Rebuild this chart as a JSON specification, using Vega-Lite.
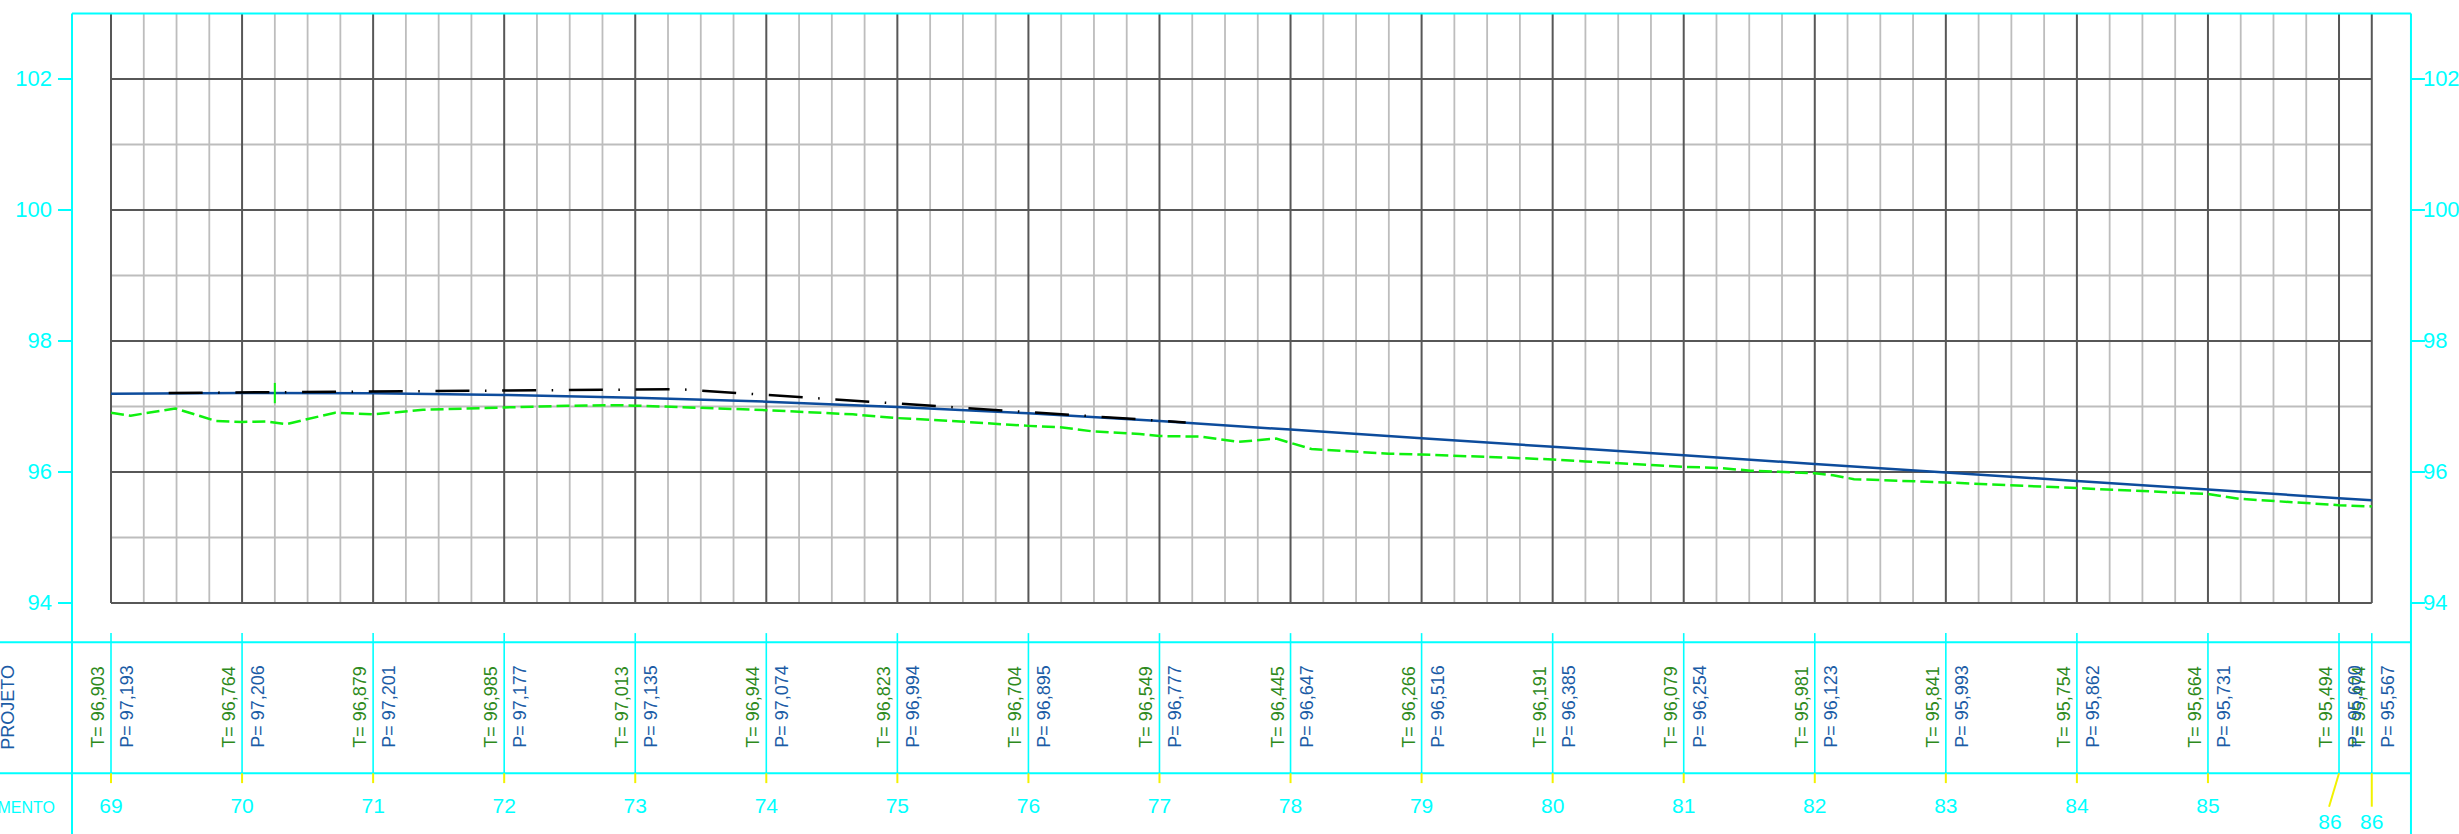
{
  "$schema": "https://vega.github.io/schema/vega-lite/v6.json",
  "width": 2459,
  "height": 834,
  "padding": 0,
  "autosize": {"type": "none"},
  "background": "#ffffff",
  "config": {"view": {"stroke": null}, "axis": {"disable": true}, "legend": {"disable": true}, "text": {"font": "Liberation Sans"}},
  "datasets": {
    "stations": [
      {"st": 69, "T": 96.903, "P": 97.193, "lab": "69", "tl": "T= 96,903", "pl": "P= 97,193"},
      {"st": 70, "T": 96.764, "P": 97.206, "lab": "70", "tl": "T= 96,764", "pl": "P= 97,206"},
      {"st": 71, "T": 96.879, "P": 97.201, "lab": "71", "tl": "T= 96,879", "pl": "P= 97,201"},
      {"st": 72, "T": 96.985, "P": 97.177, "lab": "72", "tl": "T= 96,985", "pl": "P= 97,177"},
      {"st": 73, "T": 97.013, "P": 97.135, "lab": "73", "tl": "T= 97,013", "pl": "P= 97,135"},
      {"st": 74, "T": 96.944, "P": 97.074, "lab": "74", "tl": "T= 96,944", "pl": "P= 97,074"},
      {"st": 75, "T": 96.823, "P": 96.994, "lab": "75", "tl": "T= 96,823", "pl": "P= 96,994"},
      {"st": 76, "T": 96.704, "P": 96.895, "lab": "76", "tl": "T= 96,704", "pl": "P= 96,895"},
      {"st": 77, "T": 96.549, "P": 96.777, "lab": "77", "tl": "T= 96,549", "pl": "P= 96,777"},
      {"st": 78, "T": 96.445, "P": 96.647, "lab": "78", "tl": "T= 96,445", "pl": "P= 96,647"},
      {"st": 79, "T": 96.266, "P": 96.516, "lab": "79", "tl": "T= 96,266", "pl": "P= 96,516"},
      {"st": 80, "T": 96.191, "P": 96.385, "lab": "80", "tl": "T= 96,191", "pl": "P= 96,385"},
      {"st": 81, "T": 96.079, "P": 96.254, "lab": "81", "tl": "T= 96,079", "pl": "P= 96,254"},
      {"st": 82, "T": 95.981, "P": 96.123, "lab": "82", "tl": "T= 95,981", "pl": "P= 96,123"},
      {"st": 83, "T": 95.841, "P": 95.993, "lab": "83", "tl": "T= 95,841", "pl": "P= 95,993"},
      {"st": 84, "T": 95.754, "P": 95.862, "lab": "84", "tl": "T= 95,754", "pl": "P= 95,862"},
      {"st": 85, "T": 95.664, "P": 95.731, "lab": "85", "tl": "T= 95,664", "pl": "P= 95,731"},
      {"st": 86, "T": 95.494, "P": 95.600, "lab": "86", "tl": "T= 95,494", "pl": "P= 95,600"},
      {"st": 86.25, "T": 95.474, "P": 95.567, "lab": "86", "tl": "T= 95,474", "pl": "P= 95,567"}
    ],
    "minorV": [
      {"st": 69.25}, {"st": 69.5}, {"st": 69.75}, {"st": 70.25}, {"st": 70.5}, {"st": 70.75},
      {"st": 71.25}, {"st": 71.5}, {"st": 71.75}, {"st": 72.25}, {"st": 72.5}, {"st": 72.75},
      {"st": 73.25}, {"st": 73.5}, {"st": 73.75}, {"st": 74.25}, {"st": 74.5}, {"st": 74.75},
      {"st": 75.25}, {"st": 75.5}, {"st": 75.75}, {"st": 76.25}, {"st": 76.5}, {"st": 76.75},
      {"st": 77.25}, {"st": 77.5}, {"st": 77.75}, {"st": 78.25}, {"st": 78.5}, {"st": 78.75},
      {"st": 79.25}, {"st": 79.5}, {"st": 79.75}, {"st": 80.25}, {"st": 80.5}, {"st": 80.75},
      {"st": 81.25}, {"st": 81.5}, {"st": 81.75}, {"st": 82.25}, {"st": 82.5}, {"st": 82.75},
      {"st": 83.25}, {"st": 83.5}, {"st": 83.75}, {"st": 84.25}, {"st": 84.5}, {"st": 84.75},
      {"st": 85.25}, {"st": 85.5}, {"st": 85.75}
    ],
    "hgrid": [
      {"z": 94, "k": "major", "lab": "94"}, {"z": 95, "k": "minor", "lab": ""},
      {"z": 96, "k": "major", "lab": "96"}, {"z": 97, "k": "minor", "lab": ""},
      {"z": 98, "k": "major", "lab": "98"}, {"z": 99, "k": "minor", "lab": ""},
      {"z": 100, "k": "major", "lab": "100"}, {"z": 101, "k": "minor", "lab": ""},
      {"z": 102, "k": "major", "lab": "102"}
    ],
    "terrain": [
      {"st": 69.0, "z": 96.903}, {"st": 69.15, "z": 96.86}, {"st": 69.49, "z": 96.97},
      {"st": 69.8, "z": 96.78}, {"st": 70.0, "z": 96.764}, {"st": 70.19, "z": 96.77},
      {"st": 70.335, "z": 96.73}, {"st": 70.71, "z": 96.905}, {"st": 71.0, "z": 96.879},
      {"st": 71.38, "z": 96.95}, {"st": 72.0, "z": 96.985}, {"st": 72.48, "z": 97.01},
      {"st": 72.88, "z": 97.02}, {"st": 73.0, "z": 97.013}, {"st": 73.49, "z": 96.98},
      {"st": 74.0, "z": 96.944}, {"st": 74.66, "z": 96.88}, {"st": 75.0, "z": 96.823},
      {"st": 75.48, "z": 96.77}, {"st": 76.0, "z": 96.704}, {"st": 76.26, "z": 96.68},
      {"st": 76.49, "z": 96.62}, {"st": 76.85, "z": 96.58}, {"st": 77.0, "z": 96.549},
      {"st": 77.31, "z": 96.54}, {"st": 77.6, "z": 96.46}, {"st": 77.89, "z": 96.51},
      {"st": 78.0, "z": 96.445}, {"st": 78.16, "z": 96.35}, {"st": 78.75, "z": 96.28},
      {"st": 79.0, "z": 96.266}, {"st": 79.65, "z": 96.22}, {"st": 80.0, "z": 96.191},
      {"st": 80.25, "z": 96.16}, {"st": 80.82, "z": 96.1}, {"st": 81.0, "z": 96.079},
      {"st": 81.28, "z": 96.06}, {"st": 81.51, "z": 96.02}, {"st": 82.0, "z": 95.981},
      {"st": 82.14, "z": 95.95}, {"st": 82.3, "z": 95.89}, {"st": 83.0, "z": 95.841},
      {"st": 84.0, "z": 95.754}, {"st": 85.0, "z": 95.664}, {"st": 85.24, "z": 95.59},
      {"st": 86.0, "z": 95.494}, {"st": 86.25, "z": 95.474}
    ],
    "tangent": [
      {"st": 69.44, "z": 97.206}, {"st": 73.34, "z": 97.263}, {"st": 77.2, "z": 96.757}
    ],
    "one": [{}]
  },
  "layer": [
    {
      "data": {"name": "minorV"},
      "mark": {"type": "rule", "color": "#bdbdbd", "strokeWidth": 1.8},
      "encoding": {
        "x": {"field": "st", "type": "quantitative", "scale": {"domain": [68.153, 86.9155], "nice": false, "zero": false}, "axis": null},
        "y": {"datum": 94, "type": "quantitative", "scale": {"domain": [90.473, 103.206], "nice": false, "zero": false}, "axis": null},
        "y2": {"datum": 103}
      }
    },
    {
      "data": {"name": "hgrid"},
      "transform": [{"filter": "datum.k == 'minor'"}],
      "mark": {"type": "rule", "color": "#bdbdbd", "strokeWidth": 1.8},
      "encoding": {
        "x": {"datum": 69, "type": "quantitative"},
        "x2": {"datum": 86.25},
        "y": {"field": "z", "type": "quantitative"}
      }
    },
    {
      "data": {"name": "stations"},
      "mark": {"type": "rule", "color": "#575757", "strokeWidth": 2},
      "encoding": {
        "x": {"field": "st", "type": "quantitative"},
        "y": {"datum": 94, "type": "quantitative"},
        "y2": {"datum": 103}
      }
    },
    {
      "data": {"name": "hgrid"},
      "transform": [{"filter": "datum.k == 'major'"}],
      "mark": {"type": "rule", "color": "#575757", "strokeWidth": 2},
      "encoding": {
        "x": {"datum": 69, "type": "quantitative"},
        "x2": {"datum": 86.25},
        "y": {"field": "z", "type": "quantitative"}
      }
    },
    {
      "data": {"name": "terrain"},
      "mark": {"type": "line", "color": "#0ff00f", "strokeWidth": 2.5, "strokeDash": [13, 5]},
      "encoding": {
        "x": {"field": "st", "type": "quantitative"},
        "y": {"field": "z", "type": "quantitative"}
      }
    },
    {
      "data": {"name": "stations"},
      "mark": {"type": "line", "color": "#0d4c9c", "strokeWidth": 2.5},
      "encoding": {
        "x": {"field": "st", "type": "quantitative"},
        "y": {"field": "P", "type": "quantitative"}
      }
    },
    {
      "data": {"name": "tangent"},
      "mark": {"type": "line", "color": "#000000", "strokeWidth": 2.5, "strokeDash": [34, 15.5, 1.5, 15.7]},
      "encoding": {
        "x": {"field": "st", "type": "quantitative"},
        "y": {"field": "z", "type": "quantitative"}
      }
    },
    {
      "data": {"name": "one"},
      "mark": {"type": "rule", "color": "#0ff00f", "strokeWidth": 2},
      "encoding": {
        "x": {"datum": 70.25, "type": "quantitative"},
        "y": {"datum": 97.05, "type": "quantitative"},
        "y2": {"datum": 97.36}
      }
    },
    {
      "data": {"name": "one"},
      "mark": {"type": "rule", "color": "#00ffff", "strokeWidth": 2},
      "encoding": {
        "x": {"datum": 68.7024, "type": "quantitative"},
        "y": {"datum": 90.473, "type": "quantitative"},
        "y2": {"datum": 103}
      }
    },
    {
      "data": {"name": "one"},
      "mark": {"type": "rule", "color": "#00ffff", "strokeWidth": 2},
      "encoding": {
        "x": {"datum": 86.549, "type": "quantitative"},
        "y": {"datum": 90.473, "type": "quantitative"},
        "y2": {"datum": 103}
      }
    },
    {
      "data": {"name": "one"},
      "mark": {"type": "rule", "color": "#00ffff", "strokeWidth": 2},
      "encoding": {
        "x": {"datum": 68.7024, "type": "quantitative"},
        "x2": {"datum": 86.549},
        "y": {"datum": 103, "type": "quantitative"}
      }
    },
    {
      "data": {"name": "one"},
      "mark": {"type": "rule", "color": "#00ffff", "strokeWidth": 2},
      "encoding": {
        "x": {"datum": 68.153, "type": "quantitative"},
        "x2": {"datum": 86.549},
        "y": {"datum": 93.4, "type": "quantitative"}
      }
    },
    {
      "data": {"name": "one"},
      "mark": {"type": "rule", "color": "#00ffff", "strokeWidth": 2},
      "encoding": {
        "x": {"datum": 68.153, "type": "quantitative"},
        "x2": {"datum": 86.549},
        "y": {"datum": 91.4, "type": "quantitative"}
      }
    },
    {
      "data": {"name": "stations"},
      "mark": {"type": "rule", "color": "#00ffff", "strokeWidth": 1.6},
      "encoding": {
        "x": {"field": "st", "type": "quantitative"},
        "y": {"datum": 93.54, "type": "quantitative"},
        "y2": {"datum": 91.4}
      }
    },
    {
      "data": {"name": "hgrid"},
      "transform": [{"filter": "datum.k == 'major'"}],
      "mark": {"type": "rule", "color": "#00ffff", "strokeWidth": 2},
      "encoding": {
        "x": {"datum": 68.5956, "type": "quantitative"},
        "x2": {"datum": 68.7024},
        "y": {"field": "z", "type": "quantitative"}
      }
    },
    {
      "data": {"name": "hgrid"},
      "transform": [{"filter": "datum.k == 'major'"}],
      "mark": {"type": "rule", "color": "#00ffff", "strokeWidth": 2},
      "encoding": {
        "x": {"datum": 86.549, "type": "quantitative"},
        "x2": {"datum": 86.6558},
        "y": {"field": "z", "type": "quantitative"}
      }
    },
    {
      "data": {"name": "hgrid"},
      "transform": [{"filter": "datum.k == 'major'"}],
      "mark": {"type": "text", "color": "#00ffff", "fontSize": 22, "align": "right", "baseline": "middle"},
      "encoding": {
        "x": {"datum": 68.5498, "type": "quantitative"},
        "y": {"field": "z", "type": "quantitative"},
        "text": {"field": "lab"}
      }
    },
    {
      "data": {"name": "hgrid"},
      "transform": [{"filter": "datum.k == 'major'"}],
      "mark": {"type": "text", "color": "#00ffff", "fontSize": 22, "align": "left", "baseline": "middle"},
      "encoding": {
        "x": {"datum": 86.64, "type": "quantitative"},
        "y": {"field": "z", "type": "quantitative"},
        "text": {"field": "lab"}
      }
    },
    {
      "data": {"name": "stations"},
      "transform": [{"filter": "datum.st <= 85"}],
      "mark": {"type": "rule", "color": "#f2f200", "strokeWidth": 2},
      "encoding": {
        "x": {"field": "st", "type": "quantitative"},
        "y": {"datum": 91.4, "type": "quantitative"},
        "y2": {"datum": 91.25}
      }
    },
    {
      "data": {"name": "stations"},
      "transform": [{"filter": "datum.st == 86.25"}],
      "mark": {"type": "rule", "color": "#f2f200", "strokeWidth": 2},
      "encoding": {
        "x": {"field": "st", "type": "quantitative"},
        "y": {"datum": 91.4, "type": "quantitative"},
        "y2": {"datum": 90.89}
      }
    },
    {
      "data": {"name": "stations"},
      "transform": [{"filter": "datum.st == 86"}],
      "mark": {"type": "rule", "color": "#f2f200", "strokeWidth": 2},
      "encoding": {
        "x": {"field": "st", "type": "quantitative"},
        "x2": {"datum": 85.924},
        "y": {"datum": 91.4, "type": "quantitative"},
        "y2": {"datum": 90.89}
      }
    },
    {
      "data": {"name": "stations"},
      "transform": [{"filter": "datum.st <= 85"}],
      "mark": {"type": "text", "color": "#00ffff", "fontSize": 21, "align": "center", "baseline": "alphabetic"},
      "encoding": {
        "x": {"field": "st", "type": "quantitative"},
        "y": {"datum": 90.79, "type": "quantitative"},
        "text": {"field": "lab"}
      }
    },
    {
      "data": {"name": "stations"},
      "transform": [{"filter": "datum.st == 86"}],
      "mark": {"type": "text", "color": "#00ffff", "fontSize": 21, "align": "center", "baseline": "alphabetic", "dx": -9},
      "encoding": {
        "x": {"field": "st", "type": "quantitative"},
        "y": {"datum": 90.545, "type": "quantitative"},
        "text": {"field": "lab"}
      }
    },
    {
      "data": {"name": "stations"},
      "transform": [{"filter": "datum.st == 86.25"}],
      "mark": {"type": "text", "color": "#00ffff", "fontSize": 21, "align": "center", "baseline": "alphabetic"},
      "encoding": {
        "x": {"field": "st", "type": "quantitative"},
        "y": {"datum": 90.545, "type": "quantitative"},
        "text": {"field": "lab"}
      }
    },
    {
      "data": {"name": "stations"},
      "mark": {"type": "text", "color": "#2e8a1c", "fontSize": 18, "angle": 270, "align": "left", "baseline": "alphabetic", "dy": -7},
      "encoding": {
        "x": {"field": "st", "type": "quantitative"},
        "y": {"datum": 91.79, "type": "quantitative"},
        "text": {"field": "tl"}
      }
    },
    {
      "data": {"name": "stations"},
      "mark": {"type": "text", "color": "#1b5ca6", "fontSize": 18, "angle": 270, "align": "left", "baseline": "alphabetic", "dy": 22},
      "encoding": {
        "x": {"field": "st", "type": "quantitative"},
        "y": {"datum": 91.79, "type": "quantitative"},
        "text": {"field": "pl"}
      }
    },
    {
      "data": {"name": "one"},
      "mark": {"type": "text", "color": "#1b5ca6", "fontSize": 18, "angle": 270, "align": "left", "baseline": "alphabetic", "text": "PROJETO"},
      "encoding": {
        "x": {"datum": 68.26, "type": "quantitative"},
        "y": {"datum": 91.76, "type": "quantitative"}
      }
    },
    {
      "data": {"name": "one"},
      "mark": {"type": "text", "color": "#00ffff", "fontSize": 16, "align": "right", "baseline": "alphabetic", "text": "ESTAQUEAMENTO"},
      "encoding": {
        "x": {"datum": 68.5727, "type": "quantitative"},
        "y": {"datum": 90.8, "type": "quantitative"}
      }
    }
  ]
}
